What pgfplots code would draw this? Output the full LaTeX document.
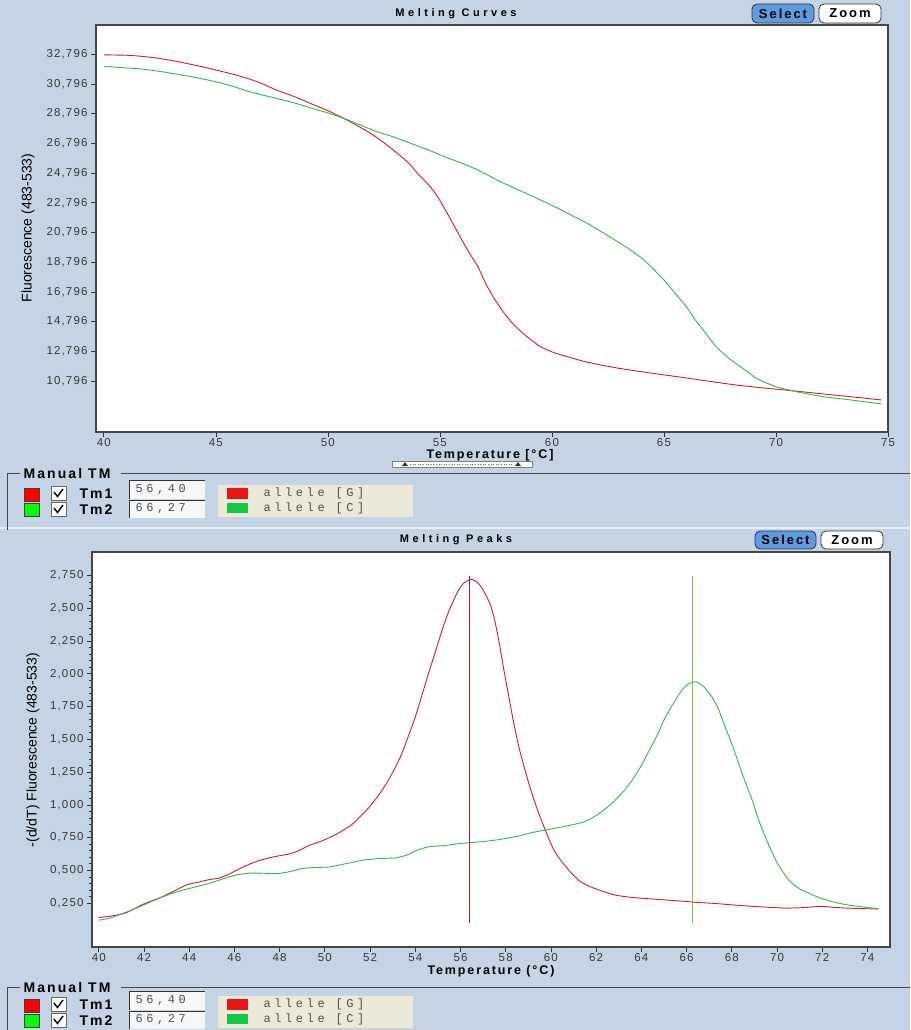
\documentclass[border=0pt]{standalone}
\usepackage{fontspec}
\setmainfont{Liberation Sans}
\newfontfamily\tickfont[LetterSpace=10]{Liberation Sans}
\newfontfamily\labfont[LetterSpace=15]{Liberation Sans}
\newfontfamily\titfont[LetterSpace=32]{Liberation Sans}
\newfontfamily\monofont[LetterSpace=30]{Liberation Mono}
\usepackage{pgfplots}
\pgfplotsset{compat=1.18}
\definecolor{bgblue}{RGB}{196,212,228}
\definecolor{curvered}{RGB}{218,24,48}
\definecolor{curvegreen}{RGB}{40,190,75}
\definecolor{tmred}{RGB}{175,30,40}
\definecolor{tmgreen}{RGB}{110,200,70}
\definecolor{boxgray}{RGB}{70,70,70}
\definecolor{beige}{RGB}{236,233,216}
\definecolor{selblue}{RGB}{95,155,225}
\definecolor{txtgray}{RGB}{55,55,55}
\definecolor{monogray}{RGB}{80,80,80}
\definecolor{legred}{RGB}{235,20,20}
\definecolor{leggreen}{RGB}{20,200,70}

\pgfplotsset{melt/.style={
  scale only axis, anchor=south west,
  axis background/.style={fill=white},
  axis line style={draw=boxgray, line width=1.3pt},
  tick align=outside, xtick pos=bottom, ytick pos=left,
  major tick length=5pt, minor tick length=3pt,
  tick style={draw=black!80, line width=0.7pt},
  ticklabel style={font=\tickfont\fontsize{11.5}{13}\selectfont, text=txtgray},
  xticklabel style={inner sep=1pt},
  /pgf/number format/assume math mode=true,
  every axis plot/.append style={smooth, tension=0.35},
}}

\newcommand{\bfl}[1]{\labfont\bfseries\fontsize{#1}{#1}\selectfont}

\begin{document}
\begin{tikzpicture}
\fill[bgblue] (0,0) rectangle (910pt,-1030pt);
\useasboundingbox (0,0) rectangle (910pt,-1030pt);
\draw[white!60!bgblue, line width=1.5pt] (0,-528pt) -- (910pt,-528pt);

% ---------------- Melting curves ----------------
\begin{axis}[melt,
  at={(96pt,-432pt)}, width=792pt, height=407pt,
  xmin=39.65, xmax=75.0, ymin=7362, ymax=34769,
  xtick={40,45,50,55,60,65,70,75},
  ytick={10796,12796,14796,16796,18796,20796,22796,24796,26796,28796,30796,32796},
  scaled y ticks=false,
  yticklabel style={/pgf/number format/.cd, fixed, 1000 sep={,}},
]
\addplot[curvered, line width=0.9pt] coordinates {
(40.0,32760)(41.2,32720)(42.3,32560)(43.3,32300)(44.2,32020)(45.0,31740)(45.8,31440)
(46.5,31130)(47.1,30800)(47.7,30390)(48.5,29950)(49.2,29500)(50.0,29000)(50.7,28490)
(51.3,28000)(51.9,27480)(52.5,26850)(53.1,26130)(53.6,25480)(54.0,24780)(54.5,24000)
(54.9,23200)(55.4,21900)(55.9,20510)(56.3,19450)(56.7,18490)(57.0,17500)(57.4,16400)
(57.8,15500)(58.2,14750)(58.6,14150)(59.0,13650)(59.5,13100)(60.1,12700)(60.7,12430)
(61.4,12130)(62.2,11870)(63.0,11650)(64.0,11420)(65.0,11210)(65.9,11020)(67.0,10780)
(68.2,10530)(69.3,10350)(70.4,10190)(71.5,10020)(72.6,9850)(73.7,9680)(74.7,9520)
};
\addplot[curvegreen, line width=0.9pt] coordinates {
(40.0,31980)(41.0,31880)(41.8,31790)(42.6,31620)(43.3,31450)(44.2,31200)(45.0,30950)
(45.8,30620)(46.5,30280)(47.1,30050)(47.7,29830)(48.5,29520)(49.2,29200)(50.0,28850)
(50.7,28490)(51.5,28000)(52.2,27580)(53.0,27200)(53.7,26800)(54.5,26350)(55.2,25900)
(56.0,25450)(56.7,25000)(57.7,24220)(58.6,23600)(59.5,22980)(60.3,22400)(61.0,21860)
(61.6,21400)(62.2,20850)(62.8,20300)(63.4,19730)(64.0,19080)(64.5,18380)(65.0,17600)
(65.5,16700)(66.0,15800)(66.4,14900)(66.9,13950)(67.3,13150)(67.8,12450)(68.2,11990)
(68.7,11450)(69.1,11000)(69.6,10650)(70.0,10410)(70.5,10220)(70.9,10080)(71.5,9900)
(72.1,9740)(72.9,9600)(73.6,9470)(74.7,9250)
};
\end{axis}

% ---------------- Melting peaks ----------------
\begin{axis}[melt,
  at={(92pt,-947pt)}, width=798pt, height=395pt,
  xmin=39.7, xmax=75.0, ymin=-0.085, ymax=2.93,
  xtick={40,42,44,46,48,50,52,54,56,58,60,62,64,66,68,70,72,74},
  ytick={0.25,0.5,0.75,1,1.25,1.5,1.75,2,2.25,2.5,2.75},
  minor y tick num=4,
  yticklabel style={/pgf/number format/.cd, fixed, fixed zerofill, precision=3, use comma},
]
\addplot[curvered, line width=0.9pt] coordinates {
(40.0,0.14)(40.5,0.15)(41.1,0.17)(41.5,0.20)(42.0,0.245)(42.7,0.29)(43.3,0.34)(43.9,0.39)
(44.4,0.41)(44.9,0.43)(45.3,0.44)(45.7,0.466)(46.2,0.51)(46.7,0.55)(47.1,0.575)(47.6,0.598)
(48.0,0.612)(48.5,0.628)(48.9,0.655)(49.3,0.69)(49.8,0.72)(50.2,0.75)(50.5,0.775)(50.8,0.805)
(51.2,0.85)(51.5,0.9)(51.9,0.97)(52.3,1.055)(52.6,1.13)(52.9,1.215)(53.3,1.35)(53.6,1.48)
(54.0,1.67)(54.3,1.84)(54.6,2.01)(54.9,2.175)(55.2,2.34)(55.5,2.486)(55.8,2.60)(56.0,2.664)
(56.2,2.70)(56.45,2.722)(56.6,2.715)(56.8,2.689)(57.0,2.64)(57.3,2.537)(57.5,2.42)(57.7,2.25)
(57.9,2.05)(58.1,1.86)(58.35,1.63)(58.58,1.444)(58.8,1.30)(59.02,1.165)(59.25,1.04)(59.46,0.936)
(59.7,0.83)(59.9,0.745)(60.15,0.65)(60.42,0.58)(60.8,0.50)(61.2,0.428)(61.6,0.385)(62.1,0.352)
(62.8,0.313)(63.5,0.295)(64.2,0.285)(65.0,0.275)(65.8,0.265)(66.5,0.255)(67.2,0.248)(68.0,0.237)
(68.7,0.228)(69.45,0.220)(70.0,0.215)(70.5,0.212)(71.2,0.216)(71.9,0.225)(72.5,0.218)(73.1,0.212)
(73.8,0.208)(74.5,0.205)
};
\addplot[curvegreen, line width=0.9pt] coordinates {
(40.0,0.12)(40.5,0.136)(41.2,0.18)(42.0,0.237)(42.7,0.29)(43.5,0.339)(44.2,0.37)(44.9,0.402)
(45.5,0.435)(46.1,0.466)(46.7,0.479)(47.3,0.478)(47.9,0.475)(48.5,0.492)(49.0,0.515)(49.6,0.522)
(50.2,0.526)(50.9,0.55)(51.7,0.578)(52.4,0.59)(53.1,0.595)(53.6,0.615)(54.1,0.655)(54.6,0.68)
(55.3,0.69)(56.1,0.707)(57.0,0.72)(57.7,0.735)(58.5,0.76)(59.2,0.79)(59.8,0.809)(60.6,0.835)
(61.5,0.872)(62.1,0.93)(62.7,1.012)(63.2,1.10)(63.6,1.19)(64.0,1.30)(64.3,1.40)(64.7,1.53)
(65.0,1.647)(65.4,1.77)(65.8,1.876)(66.1,1.925)(66.36,1.94)(66.6,1.925)(66.8,1.895)(67.1,1.83)
(67.4,1.735)(67.7,1.60)(68.1,1.419)(68.5,1.22)(68.9,1.038)(69.2,0.88)(69.6,0.707)(70.0,0.56)
(70.5,0.43)(70.9,0.37)(71.4,0.326)(71.9,0.29)(72.4,0.263)(73.0,0.24)(73.6,0.225)(74.5,0.207)
};
\addplot[tmred, line width=1.1pt, sharp plot] coordinates {(56.40,0.098) (56.40,2.75)};
\addplot[tmgreen, line width=1.1pt, sharp plot] coordinates {(66.27,0.098) (66.27,2.75)};
\end{axis}

% ---------------- texts and widgets: top ----------------
\node[font=\titfont\bfseries\fontsize{11}{12}\selectfont] at (456pt,-14pt) {Melting Curves};
\draw[rounded corners=5pt, fill=selblue, draw=black!80, line width=0.8pt] (752pt,-4pt) rectangle (814pt,-23pt);
\node[font=\bfl{13}] at (783pt,-13.5pt) {Select};
\draw[rounded corners=5pt, fill=white, draw=black!80, line width=0.8pt] (819pt,-4pt) rectangle (881pt,-23pt);
\node[font=\bfl{13}] at (850pt,-13.5pt) {Zoom};
\node[rotate=90, font=\fontsize{14}{14}\selectfont] at (28pt,-228pt) {Fluorescence (483-533)};
\node[font=\bfl{12.5}] at (490pt,-455pt) {Temperature [°C]};
\fill[white!92!beige] (392pt,-461pt) rectangle (532pt,-467pt);
\draw[gray, line width=0.5pt] (392pt,-461pt) rectangle (532pt,-467pt);
\draw[black!60, dotted, line width=0.6pt] (410pt,-464pt) -- (512pt,-464pt);
\fill[black!80] (405pt,-462pt) -- (408pt,-466pt) -- (402pt,-466pt) -- cycle;
\fill[black!80] (518pt,-462pt) -- (521pt,-466pt) -- (515pt,-466pt) -- cycle;

% Manual TM group (top)
\draw[boxgray, line width=0.8pt] (7pt,-530pt) -- (7pt,-473pt) -- (20pt,-473pt);
\draw[boxgray, line width=0.8pt] (121pt,-473pt) -- (910pt,-473pt);
\node[anchor=west, font=\bfl{14}] at (20pt,-473pt) {Manual TM};
\draw[fill=red, draw=black!75] (24pt,-488pt) rectangle (39pt,-501pt);
\draw[fill=green, draw=black!75] (24pt,-503pt) rectangle (39pt,-516pt);
\draw[fill=white, draw=black!60] (51pt,-486pt) rectangle (66pt,-500pt);
\draw[line width=1.4pt] (54pt,-492pt) -- (57.5pt,-496.5pt) -- (63pt,-489pt);
\draw[fill=white, draw=black!60] (51pt,-502pt) rectangle (66pt,-516pt);
\draw[line width=1.4pt] (54pt,-508pt) -- (57.5pt,-512.5pt) -- (63pt,-505pt);
\node[anchor=west, font=\bfl{14}] at (76pt,-494pt) {Tm1};
\node[anchor=west, font=\bfl{14}] at (76pt,-509.5pt) {Tm2};
\fill[white!94!gray] (129pt,-480pt) rectangle (205pt,-498.5pt);
\draw[black!80, line width=1pt] (129pt,-498.5pt) -- (129pt,-480pt) -- (205pt,-480pt);
\fill[white!94!gray] (129pt,-500pt) rectangle (205pt,-518pt);
\draw[black!80, line width=1pt] (129pt,-518pt) -- (129pt,-500pt) -- (205pt,-500pt);
\node[anchor=west, text=monogray, font=\monofont\fontsize{12}{12}\selectfont] at (132pt,-489.5pt) {56,40};
\node[anchor=west, text=monogray, font=\monofont\fontsize{12}{12}\selectfont] at (132pt,-509pt) {66,27};
\fill[beige] (218pt,-485pt) rectangle (413pt,-517pt);
\fill[legred] (227pt,-488pt) rectangle (248pt,-499pt);
\fill[leggreen] (227pt,-503pt) rectangle (248pt,-513pt);
\node[anchor=west, text=monogray, font=\monofont\fontsize{12}{12}\selectfont] at (260pt,-493.5pt) {allele [G]};
\node[anchor=west, text=monogray, font=\monofont\fontsize{12}{12}\selectfont] at (260pt,-508pt) {allele [C]};

% ---------------- texts and widgets: bottom ----------------
\node[font=\titfont\bfseries\fontsize{11}{12}\selectfont] at (456pt,-540pt) {Melting Peaks};
\draw[rounded corners=5pt, fill=selblue, draw=black!80, line width=0.8pt] (755pt,-531pt) rectangle (816pt,-549pt);
\node[font=\bfl{13}] at (785.5pt,-540pt) {Select};
\draw[rounded corners=5pt, fill=white, draw=black!80, line width=0.8pt] (821pt,-531pt) rectangle (883pt,-549pt);
\node[font=\bfl{13}] at (852pt,-540pt) {Zoom};
\node[rotate=90, font=\fontsize{14}{14}\selectfont] at (33pt,-750pt) {-(d/dT) Fluorescence (483-533)};
\node[font=\bfl{12.5}] at (491pt,-971pt) {Temperature (°C)};

% Manual TM group (bottom)
\draw[boxgray, line width=0.8pt] (7pt,-1030pt) -- (7pt,-987pt) -- (20pt,-987pt);
\draw[boxgray, line width=0.8pt] (121pt,-987pt) -- (910pt,-987pt);
\node[anchor=west, font=\bfl{14}] at (20pt,-987pt) {Manual TM};
\draw[fill=red, draw=black!75] (24pt,-999pt) rectangle (39pt,-1012pt);
\draw[fill=green, draw=black!75] (24pt,-1014pt) rectangle (39pt,-1027pt);
\draw[fill=white, draw=black!60] (51pt,-997pt) rectangle (66pt,-1011pt);
\draw[line width=1.4pt] (54pt,-1003pt) -- (57.5pt,-1007.5pt) -- (63pt,-1000pt);
\draw[fill=white, draw=black!60] (51pt,-1013pt) rectangle (66pt,-1027pt);
\draw[line width=1.4pt] (54pt,-1019pt) -- (57.5pt,-1023.5pt) -- (63pt,-1016pt);
\node[anchor=west, font=\bfl{14}] at (76pt,-1005pt) {Tm1};
\node[anchor=west, font=\bfl{14}] at (76pt,-1020.5pt) {Tm2};
\fill[white!94!gray] (129pt,-991pt) rectangle (205pt,-1009.5pt);
\draw[black!80, line width=1pt] (129pt,-1009.5pt) -- (129pt,-991pt) -- (205pt,-991pt);
\fill[white!94!gray] (129pt,-1011pt) rectangle (205pt,-1029pt);
\draw[black!80, line width=1pt] (129pt,-1029pt) -- (129pt,-1011pt) -- (205pt,-1011pt);
\node[anchor=west, text=monogray, font=\monofont\fontsize{12}{12}\selectfont] at (132pt,-1000.5pt) {56,40};
\node[anchor=west, text=monogray, font=\monofont\fontsize{12}{12}\selectfont] at (132pt,-1020pt) {66,27};
\fill[beige] (218pt,-996pt) rectangle (413pt,-1028pt);
\fill[legred] (227pt,-999pt) rectangle (248pt,-1010pt);
\fill[leggreen] (227pt,-1014pt) rectangle (248pt,-1024pt);
\node[anchor=west, text=monogray, font=\monofont\fontsize{12}{12}\selectfont] at (260pt,-1004.5pt) {allele [G]};
\node[anchor=west, text=monogray, font=\monofont\fontsize{12}{12}\selectfont] at (260pt,-1019pt) {allele [C]};
\end{tikzpicture}
\end{document}
